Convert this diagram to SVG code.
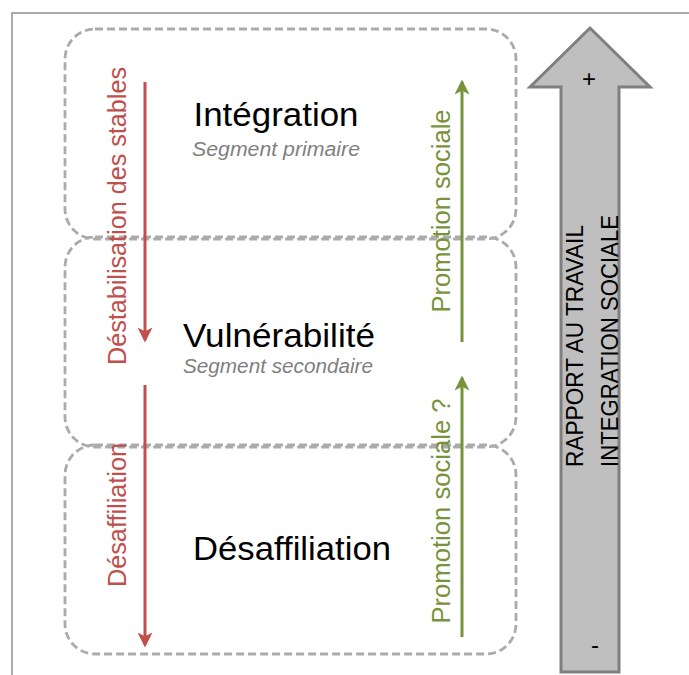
<svg xmlns="http://www.w3.org/2000/svg" width="689" height="675" viewBox="0 0 689 675">
<defs>
<style>
.box{fill:none;stroke:#ababab;stroke-width:2.8;stroke-dasharray:8 4}
.title{font-family:"Liberation Sans",Arial,sans-serif;font-size:33px;fill:#000;text-anchor:middle}
.sub{font-family:"Liberation Sans",Arial,sans-serif;font-size:20px;font-style:italic;fill:#7f7f7f;text-anchor:middle}
.red{font-family:"Liberation Sans",Arial,sans-serif;font-size:26px;fill:#c0504d;text-anchor:middle}
.green{font-family:"Liberation Sans",Arial,sans-serif;font-size:25px;fill:#77933c;text-anchor:middle}
.big{font-family:"Liberation Sans",Arial,sans-serif;font-size:24px;fill:#000}
.redline{stroke:#c0504d;stroke-width:3;fill:none}
.greenline{stroke:#77933c;stroke-width:3;fill:none}
</style>
<marker id="ah-red" viewBox="0 0 12 12" refX="10" refY="6" markerWidth="5" markerHeight="5" markerUnits="strokeWidth" orient="auto">
<path d="M0,0 L12,6 L0,12 L3,6 z" fill="#c0504d"/>
</marker>
<marker id="ah-green" viewBox="0 0 12 12" refX="10" refY="6" markerWidth="5" markerHeight="5" markerUnits="strokeWidth" orient="auto">
<path d="M0,0 L12,6 L0,12 L3,6 z" fill="#77933c"/>
</marker>
</defs>
<rect width="689" height="675" fill="#fff"/>
<path d="M12,675 L12,13 L689,13" fill="none" stroke="#aaaaaa" stroke-width="2"/>

<g id="integration">
<rect class="box" x="65" y="29" width="451" height="210" rx="30"/>
<text class="title" x="276" y="126" textLength="165" lengthAdjust="spacingAndGlyphs">Intégration</text>
<text class="sub" x="276" y="156" textLength="168" lengthAdjust="spacingAndGlyphs">Segment primaire</text>
</g>
<g id="vulnerabilite">
<rect class="box" x="65" y="237" width="451" height="210" rx="30"/>
<text class="title" x="279" y="347" textLength="192" lengthAdjust="spacingAndGlyphs">Vulnérabilité</text>
<text class="sub" x="278" y="373" textLength="190" lengthAdjust="spacingAndGlyphs">Segment secondaire</text>
</g>
<g id="desaffiliation">
<rect class="box" x="65" y="445" width="451" height="209" rx="30"/>
<text class="title" x="292" y="560" textLength="198" lengthAdjust="spacingAndGlyphs">Désaffiliation</text>
</g>

<g id="rapport">
<polygon points="590,28 650,87 619,87 619,672 561,672 561,87 530,87" fill="#bfbfbf" stroke="#7f7f7f" stroke-width="3"/>
<text class="big" x="589" y="87" text-anchor="middle" font-size="28">+</text>
<text class="big" x="595" y="653" text-anchor="middle" font-size="30">-</text>
<text class="big" transform="translate(583,467) rotate(-90)" textLength="242" lengthAdjust="spacingAndGlyphs">RAPPORT AU TRAVAIL</text>
<text class="big" transform="translate(618,467) rotate(-90)" textLength="252" lengthAdjust="spacingAndGlyphs">INTEGRATION SOCIALE</text>
</g>

<g id="connectors">
<line class="redline" x1="145" y1="82" x2="145" y2="340" marker-end="url(#ah-red)"/>
<line class="redline" x1="145" y1="385" x2="145" y2="645" marker-end="url(#ah-red)"/>
<line class="greenline" x1="462" y1="342" x2="462" y2="82" marker-end="url(#ah-green)"/>
<line class="greenline" x1="462" y1="637" x2="462" y2="378" marker-end="url(#ah-green)"/>
<text class="red" transform="translate(126,216) rotate(-90)" textLength="298" lengthAdjust="spacingAndGlyphs">Déstabilisation des stables</text>
<text class="red" transform="translate(126,515) rotate(-90)" textLength="144" lengthAdjust="spacingAndGlyphs">Désaffiliation</text>
<text class="green" transform="translate(450,211) rotate(-90)" textLength="203" lengthAdjust="spacingAndGlyphs">Promotion sociale</text>
<text class="green" transform="translate(450,511) rotate(-90)" textLength="225" lengthAdjust="spacingAndGlyphs">Promotion sociale ?</text>
</g>
</svg>
